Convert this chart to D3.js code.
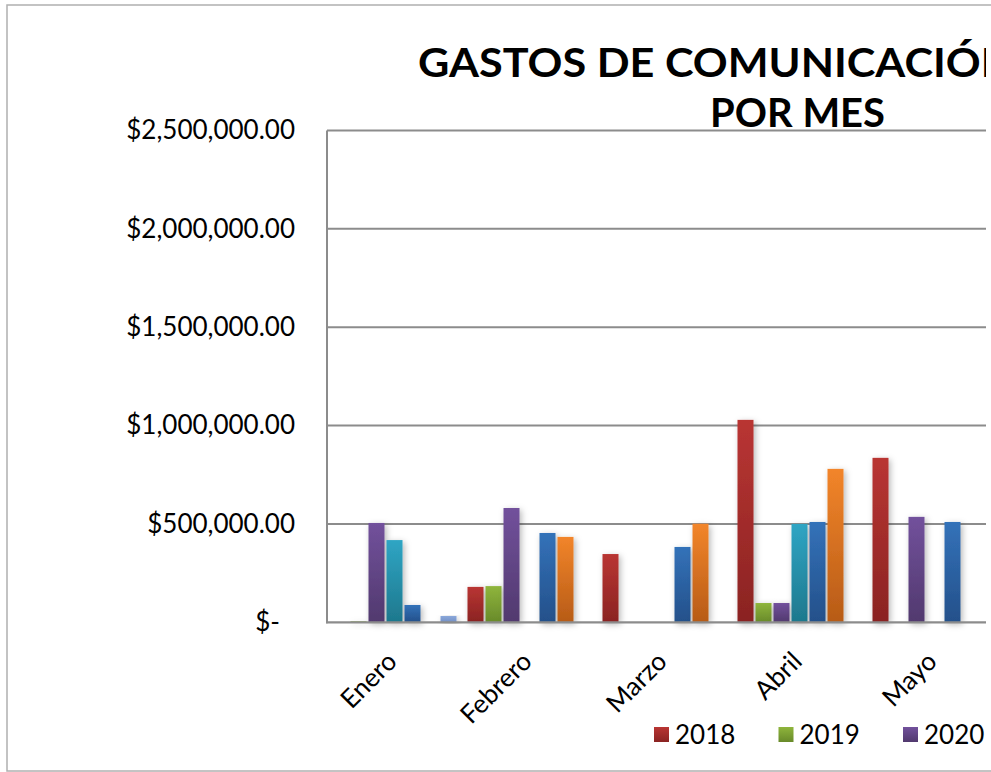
<!DOCTYPE html>
<html><head><meta charset="utf-8">
<script src="https://cdn.jsdelivr.net/npm/d3@7"></script>
<style>html,body{margin:0;padding:0;background:#fff;overflow:hidden}</style>
</head><body>
<svg id="c" width="991" height="772"></svg>
<script>
const months = ["Enero","Febrero","Marzo","Abril","Mayo"];
const seriesNames = ["2018","2019","2020","2021","2022","2023","2024"];
const s2018 = [0, 180000, 347000, 1029000, 836000];
const s2019 = [5000, 184000, 0, 98000, 0];
const s2020 = [505000, 581000, 0, 98000, 536000];
const s2021 = [418000, 0, 0, 500000, 0];
const s2022 = [88000, 454000, 383000, 510000, 510000];
const s2023 = [0, 434000, 501000, 780000, 0];
const s2024 = [32000, 0, 0, 0, 0];
const seriesValues = [s2018, s2019, s2020, s2021, s2022, s2023, s2024];
const yTicks = [0, 500000, 1000000, 1500000, 2000000, 2500000];
const titleLines = ["GASTOS DE COMUNICACIÓN", "POR MES"];
const colorsTop = ["#b93533","#8fb53c","#72519c","#2fa5c4","#3372b9","#f2852a","#8ba8da"];
const colorsBot = ["#8a2322","#688a2a","#51396e","#1e788d","#24508a","#b75b17","#7390c6"];

const W = 986; // visible right edge of the chart
const svg = d3.select("#c");
const defs = svg.append("defs");
seriesNames.forEach((s,i)=>{
  const g = defs.append("linearGradient").attr("id","g"+i).attr("x1",0).attr("y1",0).attr("x2",0).attr("y2",1);
  g.append("stop").attr("offset","0%").attr("stop-color",colorsTop[i]);
  g.append("stop").attr("offset","100%").attr("stop-color",colorsBot[i]);
});
const f = defs.append("filter").attr("id","sh").attr("x","-50%").attr("y","-10%").attr("width","200%").attr("height","130%");
f.append("feDropShadow").attr("dx",2).attr("dy",2).attr("stdDeviation",3).attr("flood-color","#000").attr("flood-opacity",0.28);
defs.append("clipPath").attr("id","clip").append("rect").attr("x",0).attr("y",0).attr("width",W).attr("height",772);

// border
svg.append("rect").attr("x",7).attr("y",5).attr("width",1100).attr("height",766)
  .attr("fill","none").attr("stroke","#b0b0b0").attr("stroke-width",1.5);

const root = svg.append("g").attr("clip-path","url(#clip)");

const pLeft = 327, pTop = 130.5, pBottom = 622.3;
const x = d3.scaleBand().domain(months).range([pLeft, pLeft + months.length*135]).padding(0);
const xs = d3.scaleBand().domain(seriesNames).range([0, x.bandwidth()]).paddingInner(0.111).paddingOuter(0.3056);
const y = d3.scaleLinear().domain([0, 2500000]).range([pBottom, pTop]);

// gridlines
root.append("g").selectAll("line").data(yTicks.filter(d=>d>0)).join("line")
  .attr("x1",pLeft).attr("x2",W).attr("y1",d=>y(d)).attr("y2",d=>y(d))
  .attr("stroke","#8c8c8c").attr("stroke-width",2);

// bars
const gs = root.append("g").selectAll("g").data(seriesNames).join("g")
  .attr("fill",(d,i)=>`url(#g${i})`).attr("filter","url(#sh)");
gs.selectAll("rect").data((s,i)=>months.map((m,j)=>({m, s, v: seriesValues[i][j]})))
  .join("rect")
  .attr("x",d=>x(d.m)+xs(d.s)).attr("width",xs.bandwidth())
  .attr("y",d=>y(d.v)).attr("height",d=>y(0)-y(d.v));

// axes lines
root.append("line").attr("x1",pLeft).attr("x2",pLeft).attr("y1",pTop).attr("y2",pBottom+1)
  .attr("stroke","#8c8c8c").attr("stroke-width",2);
root.append("line").attr("x1",pLeft-1).attr("x2",W).attr("y1",pBottom).attr("y2",pBottom)
  .attr("stroke","#8c8c8c").attr("stroke-width",2.2);

// y axis labels
const fmt = d3.format(",.2f");
const yAxis = d3.axisLeft(y).tickValues(yTicks).tickSize(0).tickPadding(32)
  .tickFormat(d => d === 0 ? "$-" : "$" + fmt(d));
const ya = root.append("g").attr("transform",`translate(${pLeft},0)`).call(yAxis);
ya.select(".domain").remove();
ya.selectAll("text").attr("font-family","Lato, sans-serif").attr("font-size",26).attr("fill","#000")
  .attr("dx", d => d === 0 ? -15 : 0);

// x labels
root.append("g").selectAll("text").data(months).join("text")
  .attr("transform", d => `translate(${x(d)+x.bandwidth()/2+4},${663}) rotate(-45)`)
  .attr("text-anchor","end").attr("font-family","Lato, sans-serif").attr("font-size",26)
  .attr("fill","#000").text(d=>d);

// title
root.append("text").attr("x",418).attr("y",77).attr("font-family","Lato, sans-serif")
  .attr("font-weight","bold").attr("font-size",40).attr("textLength",596).attr("lengthAdjust","spacingAndGlyphs")
  .text(titleLines[0]);
root.append("text").attr("x",797.5).attr("y",127).attr("text-anchor","middle").attr("font-family","Lato, sans-serif")
  .attr("font-weight","bold").attr("font-size",40).attr("textLength",175).attr("lengthAdjust","spacingAndGlyphs")
  .text(titleLines[1]);

// legend (only the entries that fall inside the visible chart area)
const legendStep = 124.5, legendX = 654;
const legendItems = seriesNames.map((d,i)=>({d,i})).filter(o => legendX + o.i*legendStep + 80 <= W);
const lg = root.append("g").selectAll("g").data(legendItems).join("g")
  .attr("transform",o=>`translate(${legendX + o.i*legendStep},727)`);
lg.append("rect").attr("width",15).attr("height",15).attr("fill",o=>`url(#g${o.i})`);
lg.append("text").attr("x",21).attr("y",17).attr("font-family","Lato, sans-serif").attr("font-size",26)
  .attr("fill","#000").text(o=>o.d);
</script>
</body></html>
